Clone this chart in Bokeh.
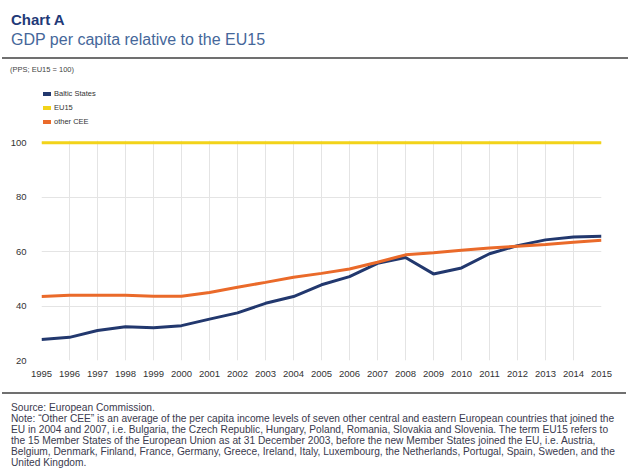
from bokeh.plotting import figure
from bokeh.models import Range1d, FixedTicker, Div
from bokeh.layouts import column
from bokeh.embed import file_html
from bokeh.resources import INLINE

years = list(range(1995, 2016))
baltic = [27.7, 28.5, 31.0, 32.4, 32.0, 32.8, 35.2, 37.5, 41.0, 43.5, 47.8,
          50.8, 55.7, 57.8, 51.8, 54.0, 59.2, 62.2, 64.3, 65.4, 65.6]
eu15 = [100.0] * len(years)
other_cee = [43.5, 44.0, 44.0, 44.0, 43.6, 43.6, 45.0, 46.9, 48.7, 50.6, 52.0,
             53.6, 56.1, 58.8, 59.6, 60.5, 61.3, 62.0, 62.6, 63.4, 64.2]
y_ticks = [20, 40, 60, 80, 100]
series_names = ["Baltic States", "EU15", "other CEE"]
colors = ["#22386e", "#f2d31a", "#ea6a2a"]

title = "Chart A"
subtitle = "GDP per capita relative to the EU15"
units = "(PPS; EU15 = 100)"
source = "Source: European Commission."
note_lines = [
    "Note: \u201cOther CEE\u201d is an average of the per capita income levels of seven other central and eastern European countries that joined the",
    "EU in 2004 and 2007, i.e. Bulgaria, the Czech Republic, Hungary, Poland, Romania, Slovakia and Slovenia. The term EU15 refers to",
    "the 15 Member States of the European Union as at 31 December 2003, before the new Member States joined the EU, i.e. Austria,",
    "Belgium, Denmark, Finland, France, Germany, Greece, Ireland, Italy, Luxembourg, the Netherlands, Portugal, Spain, Sweden, and the",
    "United Kingdom.",
]

FONT = "Liberation Sans"
W = 632
HEAD_H = 130
FIG_H = 258
FOOT_H = 475 - HEAD_H - FIG_H

legend_rows = ""
for i, (name, col) in enumerate(zip(series_names, colors)):
    cy = 94 + 14 * i
    legend_rows += (
        f'<div style="position:absolute;left:43px;top:{cy - 2}px;width:8px;height:4px;background:{col};"></div>'
        f'<div style="position:absolute;left:54px;top:{cy - 5}px;font-size:7.5px;line-height:10px;color:#333;white-space:nowrap;">{name}</div>'
    )

head_html = f"""
<div style="position:relative;width:{W}px;height:{HEAD_H}px;font-family:'{FONT}',Arial,sans-serif;">
  <div style="position:absolute;left:11px;top:9px;font-size:15px;font-weight:bold;color:#1f3a78;white-space:nowrap;">{title}</div>
  <div style="position:absolute;left:11px;top:29px;font-size:16px;color:#45679a;white-space:nowrap;">{subtitle}</div>
  <div style="position:absolute;left:2px;top:57px;width:626px;height:2px;background:#707070;"></div>
  <div style="position:absolute;left:10px;top:65px;font-size:7.5px;color:#444;white-space:nowrap;">{units}</div>
  {legend_rows}
</div>
"""
header = Div(text=head_html, width=W, height=HEAD_H, margin=(0, 0, 0, 0))

foot_inner = "<br>".join(note_lines)
foot_html = f"""
<div style="position:relative;width:{W}px;height:{FOOT_H}px;font-family:'{FONT}',Arial,sans-serif;color:#3a3a4e;">
  <div style="position:absolute;left:2px;top:4px;width:624px;height:0;border-top:2px solid #707070;z-index:20;"></div>
  <div style="position:absolute;left:11px;top:14px;font-size:10.2px;line-height:11px;white-space:nowrap;">{source}<br>{foot_inner}</div>
</div>
"""
footer = Div(text=foot_html, width=W, height=FOOT_H, margin=(0, 0, 0, 0),
             styles={"z-index": "10"})

p = figure(width=W, height=FIG_H, output_backend="svg", toolbar_location=None,
           x_range=Range1d(1995, 2015), y_range=Range1d(20, 100.8),
           min_border_left=41, min_border_right=31, min_border_top=10,
           min_border_bottom=28, background_fill_color="white",
           border_fill_color="white", outline_line_color=None, margin=(0, 0, 0, 0))

p.xaxis.ticker = FixedTicker(ticks=years)
p.yaxis.ticker = FixedTicker(ticks=y_ticks)
for ax in (p.xaxis[0], p.yaxis[0]):
    ax.axis_line_color = None
    ax.major_tick_line_color = None
    ax.minor_tick_line_color = None
    ax.major_label_text_font = FONT
    ax.major_label_text_font_size = "9.5px"
    ax.major_label_text_color = "#333333"
p.yaxis.major_label_standoff = 9
p.xaxis.major_label_standoff = 4
p.xgrid.grid_line_color = "#e4e4e4"
p.ygrid.grid_line_color = "#e4e4e4"

p.line(years, baltic, line_color=colors[0], line_width=3, legend_label=series_names[0])
p.line(years, eu15, line_color=colors[1], line_width=3, legend_label=series_names[1])
p.line(years, other_cee, line_color=colors[2], line_width=3, legend_label=series_names[2])
p.legend.visible = False

layout = column(header, p, footer, spacing=0, margin=(0, 0, 0, 0))
open("out.html", "w").write(file_html(layout, INLINE))
